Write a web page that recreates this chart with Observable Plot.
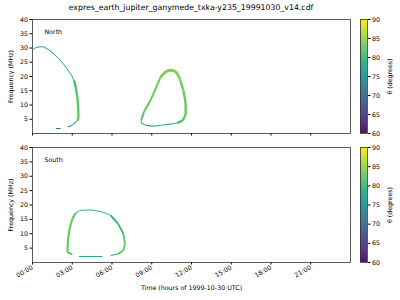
<!DOCTYPE html>
<html><head><meta charset="utf-8">
<script src="https://cdn.jsdelivr.net/npm/d3@7"></script>
<script src="https://cdn.jsdelivr.net/npm/@observablehq/plot@0.6"></script>
<style>
body{margin:0;background:#fff;}
#wrap{position:relative;width:400px;height:300px;font-family:"DejaVu Sans",sans-serif;overflow:hidden;}
#wrap > *{position:absolute;}
#title{left:0;top:4px;width:382px;text-align:center;font-size:7.8px;color:#000;line-height:1;}
</style></head><body>
<div id="wrap"><div id="title">expres_earth_jupiter_ganymede_txka-y235_19991030_v14.cdf</div></div>
<script>
// ---- data (time in hours, frequency in MHz, theta in degrees) ----
const hourTicks = [0, 3, 6, 9, 12, 15, 18, 21];
const freqTicks = [5, 10, 15, 20, 25, 30, 35, 40];
const thetaTicks = [60, 65, 70, 75, 80, 85, 90];
const panelNames = ["North", "South"];

// North: arc 00:00-03:30
const nArcT  = [0, 0.25, 0.5, 0.87, 1.38, 1.88, 2.38, 2.88, 3.13];
const nArcF  = [29.4, 30.1, 30.4, 30.4, 28.9, 26.8, 24.1, 21.0, 18.7];
const nArcTh = [75.5, 75.5, 75.5, 76, 76.5, 77, 78, 79, 80];
const nVertT  = [3.13, 3.26, 3.39, 3.44, 3.46, 3.42];
const nVertF  = [18.7, 16.3, 12.8, 9.3, 5.8, 4.6];
const nVertTh = [81, 82, 82.5, 82.5, 82.5, 82];
const nHookT  = [3.42, 3.26, 3.01, 2.64];
const nHookF  = [4.6, 4.1, 2.9, 2.3];
const nHookTh = [80, 79, 78, 77];
const nLowT  = [1.76, 2.13];
const nLowF  = [1.75, 1.75];
const nLowTh = [72, 72];
// North: loop 08:00-11:40
const nLeftT  = [8.21, 8.41, 8.91, 9.29, 9.67, 10.05];
const nLeftF  = [4.7, 7.6, 11.7, 15.7, 19.8, 21.6];
const nLeftTh = [82, 82.5, 83, 83.5, 84, 84];
const nTopT  = [9.67, 10.05, 10.42, 10.8, 11.12];
const nTopF  = [19.8, 21.6, 22.2, 21.6, 19.2];
const nTopTh = [84, 84, 84, 84, 83.5];
const nRightT  = [11.12, 11.38, 11.55, 11.55, 11.3, 10.92];
const nRightF  = [19.2, 15.2, 10.5, 6.4, 4.4, 3.7];
const nRightTh = [83.5, 83, 83, 82.5, 81, 80];
const nBotT  = [10.92, 10.42, 9.67, 9.04, 8.54, 8.21, 8.21];
const nBotF  = [3.7, 3.3, 2.9, 2.6, 2.9, 3.7, 4.7];
const nBotTh = [80, 79, 78, 78, 79, 81, 82];
// South: loop 02:30-07:00
const sLeftT  = [2.64, 2.68, 2.83, 3.01, 3.26];
const sLeftF  = [3.6, 7.7, 12.3, 15.2, 17.2];
const sLeftTh = [83, 83, 83, 82.5, 81];
const sTopT  = [3.26, 3.59, 4.39, 5.27, 5.9];
const sTopF  = [17.2, 18.1, 18.3, 17.5, 16.4];
const sTopTh = [80, 79, 78, 78, 79];
const sRightT  = [5.9, 6.45, 6.86, 6.98, 6.86, 6.45];
const sRightF  = [16.4, 13.5, 10.0, 6.5, 4.2, 3.0];
const sRightTh = [79, 80, 82, 83, 82, 80];
const sBot1T = [6.45, 5.9],  sBot1F = [3.0, 2.4],  sBot1Th = [78, 78];
const sBot2T = [5.27, 3.51], sBot2F = [2.1, 2.1],  sBot2Th = [77.5, 77.5];
const sBot3T = [3.01, 2.64], sBot3F = [2.8, 3.6],  sBot3Th = [79, 81];

// ---- drawing ----
const FONT = "DejaVu Sans";
function rows(T, F, Th) { return T.map((t, i) => ({t, f: F[i], theta: Th[i]})); }
const northSegs = [
  [rows(nArcT, nArcF, nArcTh), 1.0],
  [rows(nVertT, nVertF, nVertTh), 2.4],
  [rows(nHookT, nHookF, nHookTh), 1.1],
  [rows(nLowT, nLowF, nLowTh), 1.0],
  [rows(nLeftT, nLeftF, nLeftTh), 2.0],
  [rows(nTopT, nTopF, nTopTh), 2.8],
  [rows(nRightT, nRightF, nRightTh), 2.4],
  [rows(nBotT, nBotF, nBotTh), 1.1]
];
const southSegs = [
  [rows(sLeftT, sLeftF, sLeftTh), 2.2],
  [rows(sTopT, sTopF, sTopTh), 1.0],
  [rows(sRightT, sRightF, sRightTh), 1.8],
  [rows(sBot1T, sBot1F, sBot1Th), 1.0],
  [rows(sBot2T, sBot2F, sBot2Th), 1.0],
  [rows(sBot3T, sBot3F, sBot3Th), 1.4]
];
const fmtHour = h => String(h).padStart(2, "0") + ":00";
const colorOpt = {type: "linear", scheme: "viridis", domain: [60, 90]};

function panel(segs, name, showX, height, mt, mb) {
  return Plot.plot({
    width: 355, height, marginLeft: 32, marginRight: 5, marginTop: mt, marginBottom: mb,
    style: {fontFamily: FONT, fontSize: "6.3px", background: "transparent", color: "#000", overflow: "visible"},
    x: {domain: [0, 24], ticks: hourTicks, tickSize: 2.5, tickPadding: 2,
        tickFormat: showX ? fmtHour : () => "", tickRotate: showX ? -30 : 0,
        label: showX ? "Time (hours of 1999-10-30 UTC)" : null, labelArrow: false, labelAnchor: "center", labelOffset: 27},
    y: {domain: [0, 40], ticks: freqTicks, tickSize: 2.5, tickPadding: 2,
        label: "Frequency (MHz)", labelArrow: false, labelAnchor: "center", labelOffset: 24},
    color: colorOpt,
    marks: [
      ...segs.map(([d, w]) => Plot.line(d, {x: "t", y: "f", z: () => 1, stroke: "theta", strokeWidth: w, strokeLinecap: "butt", curve: "catmull-rom"})),
      Plot.text([name], {frameAnchor: "top-left", dx: 12, dy: 10.5, text: d => d, textAnchor: "start", fontSize: 6.3}),
      Plot.frame({stroke: "#333", strokeWidth: 0.8})
    ]
  });
}
function colorbar(height, mt, mb) {
  const steps = d3.range(0, 240).map(i => 60 + i * 0.125);
  return Plot.plot({
    width: 45, height, marginLeft: 5, marginRight: 33, marginTop: mt, marginBottom: mb,
    style: {fontFamily: FONT, fontSize: "6.3px", background: "transparent", color: "#000", overflow: "visible"},
    x: {axis: null, domain: [0, 1]},
    y: {domain: [60, 90], ticks: thetaTicks, tickSize: 2.5, tickPadding: 2, axis: "right",
        label: "θ (degrees)", labelArrow: false, labelAnchor: "center", labelOffset: 24},
    color: colorOpt,
    marks: [
      Plot.rect(steps, {x1: 0, x2: 1, y1: d => d, y2: d => d + 0.2, fill: d => d + 0.06}),
      Plot.frame({stroke: "#333", strokeWidth: 0.8})
    ]
  });
}
const wrap = document.getElementById("wrap");
function place(el, left, top) { el.style.left = left + "px"; el.style.top = top + "px"; el.style.position = "absolute"; wrap.appendChild(el); }
place(panel(northSegs, panelNames[0], false, 140, 19, 7), 0, 0);
place(panel(southSegs, panelNames[1], true, 160, 7, 38), 0, 140);
place(colorbar(140, 19, 7), 355, 0);
place(colorbar(160, 7, 38), 355, 140);
</script>
</body></html>
